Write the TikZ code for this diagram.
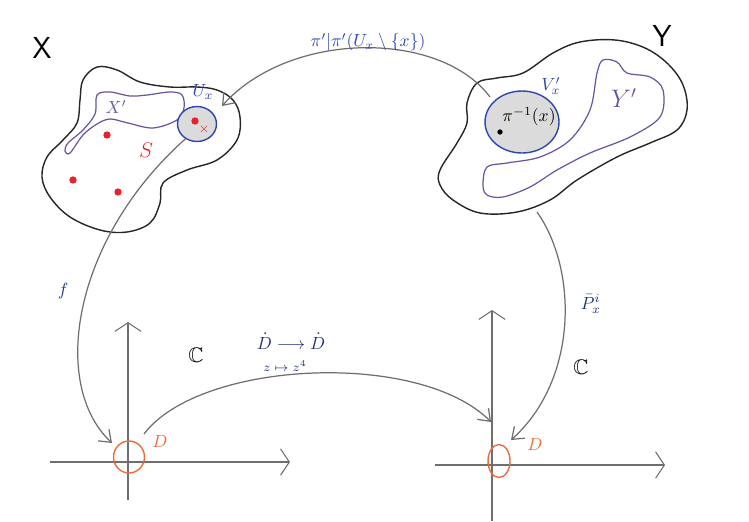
\documentclass[tikz,border=0pt]{standalone}
\usepackage{amsmath,amssymb}
\usetikzlibrary{arrows.meta,shapes.geometric}
\definecolor{inkblue}{RGB}{45,70,175}
\definecolor{inkpurple}{RGB}{105,85,165}
\definecolor{inkred}{RGB}{230,35,45}
\definecolor{inkorange}{RGB}{240,105,60}
\definecolor{inkgray}{RGB}{110,110,110}
\begin{document}
\begin{tikzpicture}[x=0.02cm,y=-0.02cm,
  blob/.style={line width=0.8pt, draw=black!85},
  sub/.style={line width=0.7pt, draw=inkpurple},
  nbhd/.style={ellipse, line width=0.8pt, draw=inkblue, fill=gray!28, inner sep=0pt},
  disk/.style={ellipse, line width=0.8pt, draw=inkorange, inner sep=0pt},
  conn/.style={line width=0.7pt, draw=inkgray, -{Straight Barb[length=6pt,width=9pt,line width=0.7pt]}},
  axis/.style={line width=0.6pt, draw=inkgray, -{Straight Barb[length=5pt,width=15pt,line width=0.6pt]}},
  dot/.style={circle, fill=inkred, inner sep=0pt, minimum size=4.2pt},
  lbl/.style={inner sep=0.5pt}]
\useasboundingbox (0,0) rectangle (749,521);

% ---------- left space X ----------
\node[lbl] (labX) at (42,48) {\LARGE\textsf{X}};
\draw[blob] plot[smooth cycle, tension=0.6] coordinates {(83,80)(97,67)(117,70)(140,82)(170,87)(197,87)(217,90)(233,100)(240,117)(237,140)(217,160)(187,170)(163,183)(160,203)(150,223)(127,232)(100,230)(70,217)(50,197)(42,177)(47,157)(63,140)(77,123)(80,100)};
\draw[sub] plot[smooth cycle, tension=0.55] coordinates {(97,95)(110,92)(130,96)(147,95)(170,92)(182,95)(184,108)(177,120)(153,128)(128,123)(110,119)(97,124)(83,135)(70,153)(65,151)(68,143)(83,130)(95,114)};
\node[nbhd, minimum width=0.78cm, minimum height=0.7cm] (U) at (197,124) {};
\node[lbl, text=inkblue] (labU) at (203,92) {$U_x$};
\node[lbl, text=inkpurple] (labXp) at (116,107) {$X'$};
\node[dot] (s1) at (195,121) {};
\node[lbl, text=inkred] (xmark) at (204,129) {\scriptsize$\times$};
\node[dot] (s2) at (107,135) {};
\node[dot] (s3) at (73,180) {};
\node[dot] (s4) at (118,192) {};
\node[lbl, text=inkred] (labS) at (146,150) {\large$S$};

% ---------- right space Y ----------
\node[lbl] (labY) at (662,36) {\LARGE\textsf{Y}};
\draw[blob] plot[smooth cycle, tension=0.6] coordinates {(440,170)(457,143)(467,123)(467,103)(477,83)(497,78)(523,73)(553,53)(580,42)(615,40)(645,48)(668,64)(683,85)(687,110)(677,130)(650,143)(617,157)(577,180)(550,200)(517,212)(480,213)(453,200)(440,185)};
\draw[sub] plot[smooth cycle, tension=0.55] coordinates {(483,185)(487,167)(507,163)(540,157)(570,140)(590,110)(597,73)(603,60)(617,62)(627,73)(650,77)(663,90)(660,117)(630,137)(590,153)(557,170)(530,187)(503,197)(487,195)};
\node[nbhd, minimum width=1.48cm, minimum height=1.24cm] (V) at (522,122) {};
\node[circle, fill=black, inner sep=0pt, minimum size=3pt] (pt) at (500,132) {};
\node[lbl] (labPi) at (529,117) {$\pi^{-1}(x)$};
\node[lbl, text=inkblue] (labV) at (551,86) {$V'_x$};
\node[lbl, text=inkpurple] (labYp) at (624,98) {\Large$Y'$};

% ---------- lower planes ----------
\coordinate (lv0) at (128,500);
\coordinate (lv1) at (128,322);
\coordinate (lh0) at (50,462);
\coordinate (lh1) at (290,462);
\draw[axis] (lv0) -- (lv1);
\draw[axis] (lh0) -- (lh1);
\node[disk, minimum width=0.62cm, minimum height=0.64cm] (D1) at (129,457) {};
\node[lbl, text=inkorange] (labD1) at (160,441) {$D$};
\node[lbl] (labC1) at (196,355) {\large$\mathbb{C}$};

\coordinate (rv0) at (492,521);
\coordinate (rv1) at (492,310);
\coordinate (rh0) at (435,465);
\coordinate (rh1) at (665,465);
\draw[axis] (rv0) -- (rv1);
\draw[axis] (rh0) -- (rh1);
\node[disk, minimum width=0.44cm, minimum height=0.66cm] (D2) at (499,461) {};
\node[lbl, text=inkorange] (labD2) at (535,444) {$D$};
\node[lbl] (labC2) at (581,367) {\large$\mathbb{C}$};

% ---------- connectors ----------
\coordinate (topS) at (490,97);
\coordinate (topE) at (222,106);
\draw[conn] (topS) .. controls (440,30) and (290,30) .. (topE);
\node[lbl, text=inkblue] (labTop) at (368,42) {$\pi'|\pi'(U_x\setminus\{x\})$};

\coordinate (fE) at (112,443);
\draw[conn] (U.232) .. controls (72,240) and (50,385) .. (fE);
\node[lbl, text=inkblue!70!black] (labf) at (63,291) {$f$};

\coordinate (pS) at (537,212);
\coordinate (pE) at (511,440);
\draw[conn] (pS) .. controls (578,270) and (578,380) .. (pE);
\node[lbl, text=inkblue!70!black] (labP) at (591,304) {$\bar{P}^{i}_{x}$};

\coordinate (bS) at (144,434);
\coordinate (bE) at (491,422);
\draw[conn] (bS) .. controls (200,360) and (420,350) .. (bE);
\node[lbl, text=inkblue!70!black] (labMap) at (291,341) {$\dot D \longrightarrow \dot D$};
\node[lbl, text=inkblue!70!black] (labZ) at (285,366) {\scriptsize$z\mapsto z^4$};
\end{tikzpicture}
\end{document}
